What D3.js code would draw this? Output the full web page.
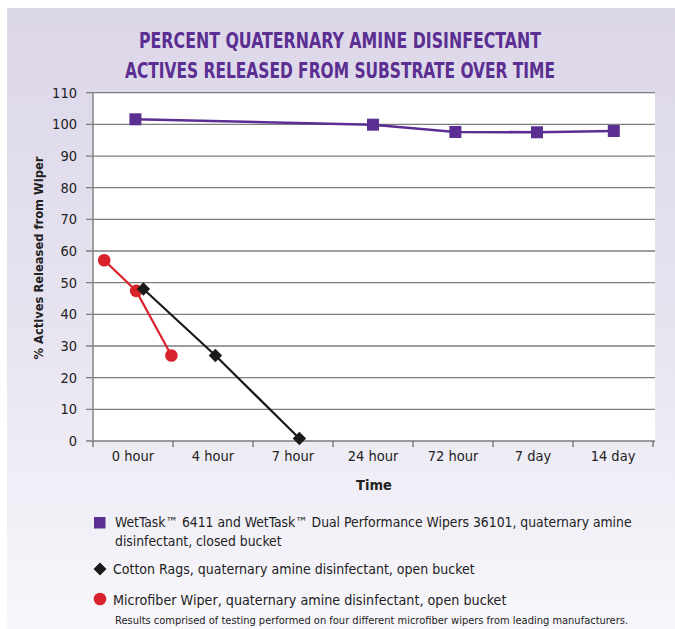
<!DOCTYPE html>
<html>
<head>
<meta charset="utf-8">
<script src="https://cdn.jsdelivr.net/npm/d3@7"></script>
<style>
  html, body { margin: 0; padding: 0; background: #ffffff; }
  svg { display: block; }
  text { font-family: "Liberation Sans Narrow", "DejaVu Sans Condensed", "Arial Narrow", sans-serif; }
</style>
</head>
<body>
<svg id="chart" width="675" height="629"></svg>
<script>
// Time points along the horizontal axis
const categories = ["0 hour", "4 hour", "7 hour", "24 hour", "72 hour", "7 day", "14 day"];
const yTicks = [0, 10, 20, 30, 40, 50, 60, 70, 80, 90, 100, 110];

// Each series: position along the time axis (in category units) and % released
const wetTaskPos = [0.03, 3.0, 4.03, 5.05, 6.01];
const wetTaskVal = [101.6, 99.9, 97.6, 97.5, 97.9];

const cottonPos = [0.13, 1.03, 2.08];
const cottonVal = [48.0, 27.0, 0.8];

const microPos = [-0.36, 0.04, 0.48];
const microVal = [57.1, 47.4, 27.0];

const titleLines = ["PERCENT QUATERNARY AMINE DISINFECTANT", "ACTIVES RELEASED FROM SUBSTRATE OVER TIME"];
const legendWetTask = ["WetTask\u2122 6411 and WetTask\u2122 Dual Performance Wipers 36101, quaternary amine", "disinfectant, closed bucket"];
const legendCotton = "Cotton Rags, quaternary amine disinfectant, open bucket";
const legendMicro = "Microfiber Wiper, quaternary amine disinfectant, open bucket";
const footNote = "Results comprised of testing performed on four different microfiber wipers from leading manufacturers.";

const purple = "#5b2e91";
const black = "#1a1a1a";
const red = "#d8232c";

const svg = d3.select("#chart");
const W = 675, H = 629;
const plot = { left: 93, right: 655, top: 92.7, bottom: 441 };

// Background panel with soft lavender gradient
const defs = svg.append("defs");
const grad = defs.append("linearGradient").attr("id", "panelGrad")
  .attr("x1", 0).attr("y1", 0).attr("x2", 0).attr("y2", 1);
grad.append("stop").attr("offset", "0%").attr("stop-color", "#dcd6e9");
grad.append("stop").attr("offset", "55%").attr("stop-color", "#e8e5f1");
grad.append("stop").attr("offset", "100%").attr("stop-color", "#f8f7fb");
svg.append("rect").attr("x", 7).attr("y", 8).attr("width", W - 7).attr("height", H - 8)
  .attr("fill", "url(#panelGrad)");

// Title
svg.append("g").selectAll("text").data(titleLines).join("text")
  .attr("x", 340).attr("y", (d, i) => 48 + i * 30)
  .attr("text-anchor", "middle")
  .attr("font-size", 22).attr("font-weight", "bold")
  .attr("fill", purple)
  .attr("textLength", (d, i) => i === 0 ? 402 : 430)
  .attr("lengthAdjust", "spacingAndGlyphs")
  .text(d => d);

// Plot area
svg.append("rect").attr("x", plot.left).attr("y", plot.top)
  .attr("width", plot.right - plot.left).attr("height", plot.bottom - plot.top)
  .attr("fill", "#ffffff");

const x = d3.scaleLinear().domain([-0.5, categories.length - 0.5]).range([plot.left, 653]);
const y = d3.scaleLinear().domain([0, 110]).range([plot.bottom, plot.top]);

// Horizontal gridlines extending left as tick marks
svg.append("g").selectAll("line").data(yTicks).join("line")
  .attr("x1", 86).attr("x2", plot.right)
  .attr("y1", d => y(d)).attr("y2", d => y(d))
  .attr("stroke", "#7d7d7d").attr("stroke-width", 1.3);

// Y axis labels
svg.append("g").selectAll("text").data(yTicks).join("text")
  .attr("x", 77).attr("y", d => y(d)).attr("dy", "0.35em")
  .attr("text-anchor", "end").attr("font-size", 14.5).attr("fill", "#222")
  .text(d => d);

// Vertical axis line
svg.append("line").attr("x1", plot.left).attr("x2", plot.left)
  .attr("y1", plot.top).attr("y2", plot.bottom)
  .attr("stroke", "#8a8a8a").attr("stroke-width", 1.6);

// X axis with tick marks at band boundaries
const boundaries = d3.range(categories.length + 1).map(i => i - 0.5);
svg.append("g").selectAll("line").data(boundaries).join("line")
  .attr("x1", d => x(d)).attr("x2", d => x(d))
  .attr("y1", plot.bottom).attr("y2", plot.bottom + 6)
  .attr("stroke", "#6e6e6e").attr("stroke-width", 1.3);
svg.append("g").selectAll("text").data(categories).join("text")
  .attr("x", (d, i) => x(i)).attr("y", 461)
  .attr("text-anchor", "middle").attr("font-size", 14.5).attr("fill", "#222")
  .text(d => d);

// Axis titles
svg.append("text").attr("x", 374).attr("y", 490)
  .attr("text-anchor", "middle").attr("font-size", 14.5).attr("font-weight", "bold").attr("fill", "#222")
  .text("Time");
svg.append("text").attr("transform", "translate(43,258) rotate(-90)")
  .attr("text-anchor", "middle").attr("font-size", 12.8).attr("font-weight", "bold").attr("fill", "#222")
  .text("% Actives Released from Wiper");

const line = d3.line().x(d => x(d[0])).y(d => y(d[1]));
const zip = (a, b) => a.map((v, i) => [v, b[i]]);

const seriesWet = zip(wetTaskPos, wetTaskVal);
const seriesCotton = zip(cottonPos, cottonVal);
const seriesMicro = zip(microPos, microVal);

// Lines
svg.append("path").datum(seriesWet).attr("d", line)
  .attr("fill", "none").attr("stroke", purple).attr("stroke-width", 2.6);
svg.append("path").datum(seriesMicro).attr("d", line)
  .attr("fill", "none").attr("stroke", red).attr("stroke-width", 2.2);
svg.append("path").datum(seriesCotton).attr("d", line)
  .attr("fill", "none").attr("stroke", black).attr("stroke-width", 2.2);

// Markers
svg.append("g").selectAll("rect").data(seriesWet).join("rect")
  .attr("x", d => x(d[0]) - 6).attr("y", d => y(d[1]) - 6)
  .attr("width", 12).attr("height", 12).attr("fill", purple);
svg.append("g").selectAll("circle").data(seriesMicro).join("circle")
  .attr("cx", d => x(d[0])).attr("cy", d => y(d[1])).attr("r", 6.3).attr("fill", red);
const diamond = d3.symbol().type(d3.symbolSquare).size(90);
svg.append("g").selectAll("path").data(seriesCotton).join("path")
  .attr("d", diamond)
  .attr("transform", d => `translate(${x(d[0])},${y(d[1])}) rotate(45)`)
  .attr("fill", black);

// Legend
const lg = svg.append("g");
lg.append("rect").attr("x", 94).attr("y", 517).attr("width", 11.5).attr("height", 11.5).attr("fill", purple);
lg.selectAll("text.wet").data(legendWetTask).join("text").attr("class", "wet")
  .attr("x", 115).attr("y", (d, i) => 527 + i * 19)
  .attr("font-size", 13.8).attr("fill", "#222")
  .text(d => d);
lg.append("path").attr("d", d3.symbol().type(d3.symbolSquare).size(85))
  .attr("transform", "translate(100,569) rotate(45)").attr("fill", black);
lg.append("text").attr("x", 113).attr("y", 574)
  .attr("font-size", 14).attr("fill", "#222")
  .text(legendCotton);
lg.append("circle").attr("cx", 100).attr("cy", 599).attr("r", 6.3).attr("fill", red);
lg.append("text").attr("x", 113).attr("y", 605)
  .attr("font-size", 14.2).attr("fill", "#222")
  .text(legendMicro);
lg.append("text").attr("x", 115).attr("y", 624)
  .attr("font-size", 11).attr("fill", "#222")
  .text(footNote);
</script>
</body>
</html>
